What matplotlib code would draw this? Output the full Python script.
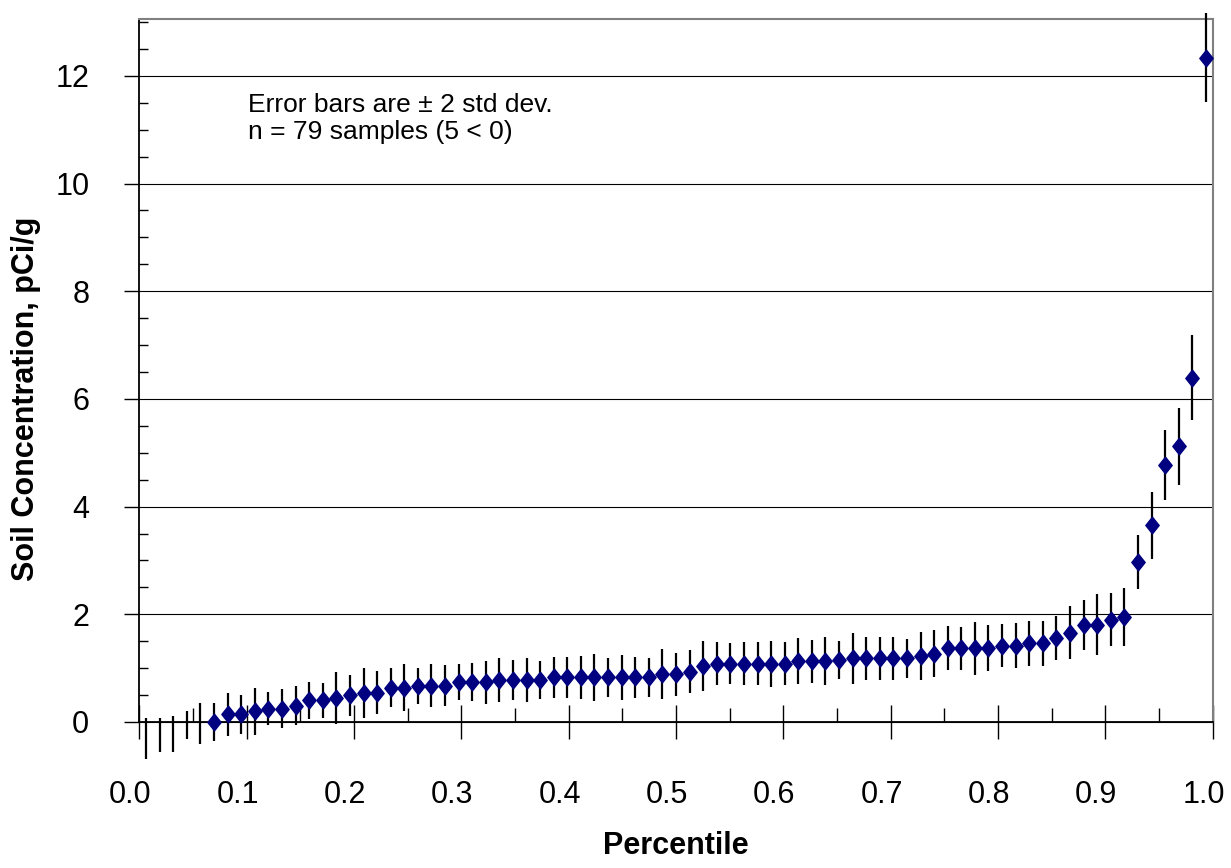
import numpy as np
import matplotlib
matplotlib.use('Agg')
import matplotlib.pyplot as plt
import matplotlib.transforms as mtransforms
from matplotlib.ticker import MultipleLocator, FixedLocator

plt.rcParams['font.family'] = ['Liberation Sans', 'DejaVu Sans']

# sorted soil concentrations (pCi/g) and their 2-sigma half widths
conc = [-0.31, -0.24, -0.22, -0.05, -0.02,
        0.00, 0.14, 0.14, 0.20, 0.25, 0.25, 0.30, 0.40, 0.40, 0.45,
        0.50, 0.54, 0.54, 0.64, 0.64,
        0.67, 0.67, 0.67, 0.74, 0.74, 0.74, 0.78, 0.78, 0.78, 0.78,
        0.83, 0.83, 0.83, 0.83, 0.83, 0.83, 0.83, 0.83, 0.89, 0.89,
        0.93, 1.04, 1.08, 1.08, 1.08, 1.08, 1.08, 1.08, 1.13, 1.13,
        1.13, 1.15, 1.18, 1.18, 1.18, 1.18, 1.18, 1.23, 1.27, 1.37,
        1.37, 1.37, 1.37, 1.42, 1.42, 1.46, 1.46, 1.56, 1.66, 1.80,
        1.81, 1.90, 1.95, 2.97, 3.65, 4.78, 5.12, 6.39, 12.34]
two_sd = [0.38, 0.31, 0.33, 0.26, 0.38, 0.36, 0.40, 0.36, 0.44, 0.31,
          0.37, 0.36, 0.34, 0.32, 0.48, 0.38, 0.46, 0.40, 0.36, 0.43,
          0.34, 0.40, 0.38, 0.34, 0.35, 0.40, 0.40, 0.38, 0.40, 0.35,
          0.38, 0.38, 0.40, 0.44, 0.36, 0.42, 0.38, 0.36, 0.47, 0.40,
          0.40, 0.47, 0.40, 0.38, 0.40, 0.40, 0.43, 0.40, 0.43, 0.40,
          0.45, 0.36, 0.48, 0.40, 0.40, 0.40, 0.36, 0.45, 0.43, 0.41,
          0.40, 0.49, 0.43, 0.40, 0.42, 0.42, 0.42, 0.40, 0.49, 0.47,
          0.57, 0.49, 0.54, 0.50, 0.62, 0.65, 0.72, 0.79, 0.83]

conc = np.array(conc)
two_sd = np.array(two_sd)
n = len(conc)
pct = (np.arange(1, n + 1) - 0.5) / n

fig = plt.figure(figsize=(12.31, 8.68), dpi=100)
ax = fig.add_axes([0.1132, 0.1217, 0.8719, 0.8561])

eb = ax.errorbar(pct, conc, yerr=two_sd, fmt='none', ecolor='black',
                 elinewidth=1.6, capsize=0, zorder=3)
for c in eb.lines[2]:
    c.set_clip_on(False)

diamond = [(0, 1), (0.8, 0), (0, -1), (-0.8, 0), (0, 1)]
pos = conc >= 0
ax.plot(pct[pos], conc[pos], linestyle='none', marker=diamond, ms=12,
        color='#000080', clip_on=False, zorder=4)

ax.set_xlim(0, 1)
ax.set_ylim(-0.75, 13.05)

ax.spines['bottom'].set_position(('data', 0))
ax.spines['bottom'].set_linewidth(1.3)
ax.spines['left'].set_bounds(0, 13.05)
ax.spines['left'].set_linewidth(1.3)
ax.spines['right'].set_bounds(0, 13.05)
ax.spines['right'].set_color('#808080')
ax.spines['right'].set_linewidth(1.5)
ax.spines['top'].set_color('#808080')
ax.spines['top'].set_linewidth(1.5)

xt = np.round(np.arange(0, 1.01, 0.1), 1)
ax.set_xticks(xt, [f'{v:.1f}' for v in xt])
ax.xaxis.set_minor_locator(MultipleLocator(0.05))
ax.yaxis.set_major_locator(MultipleLocator(2))
ax.yaxis.set_minor_locator(FixedLocator(np.arange(0.5, 13.01, 0.5)))

ax.tick_params(axis='x', which='major', direction='inout', length=24,
               width=1, labelsize=22, pad=30)
ax.tick_params(axis='x', which='minor', direction='in', length=10, width=1)
ax.tick_params(axis='y', which='major', direction='out', length=11,
               width=1, labelsize=22, pad=25)
ax.tick_params(axis='y', which='minor', direction='in', length=6.7, width=1)

shift = mtransforms.ScaledTranslation(-9 / 100, 0, fig.dpi_scale_trans)
for lab in ax.get_xticklabels():
    lab.set_transform(lab.get_transform() + shift)

ax.yaxis.grid(True, which='major', color='black', linewidth=0.8)
ax.set_axisbelow(True)

fig.text(0.2012, 0.8713, 'Error bars are \u00b1 2 std dev.', fontsize=19,
         va='baseline')
fig.text(0.2012, 0.8399, 'n = 79 samples (5 < 0)', fontsize=19,
         va='baseline')

fig.text(0.549, 0.025, 'Percentile', fontsize=22, fontweight='bold',
         ha='center', va='center')
fig.text(0.021, 0.54, 'Soil Concentration, pCi/g', fontsize=22,
         fontweight='bold', rotation=90, ha='center', va='center')

fig.savefig('out.png', dpi=100)
